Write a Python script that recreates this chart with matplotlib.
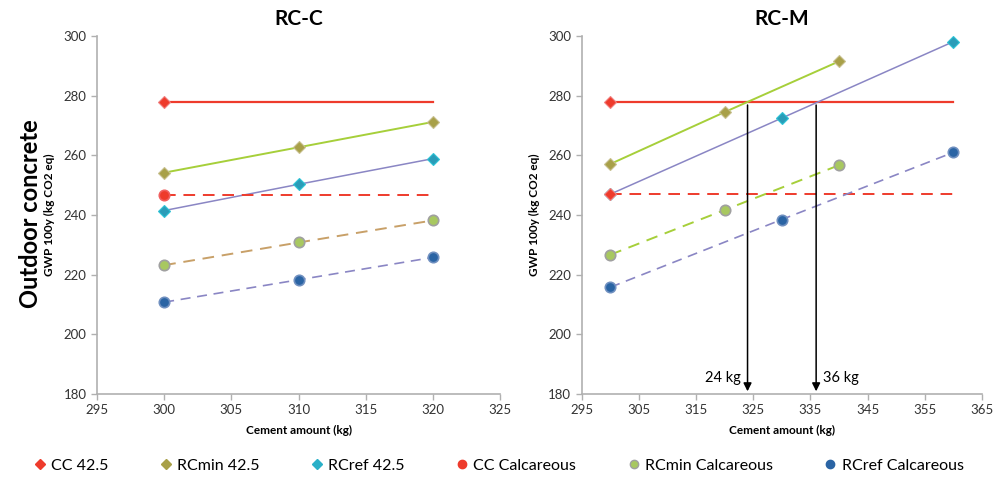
import numpy as np
import matplotlib
matplotlib.use("Agg")
import matplotlib.pyplot as plt
from matplotlib.lines import Line2D

plt.rcParams['font.family'] = ['Lato', 'DejaVu Sans']

# RC-C panel
c_x = [300, 310, 320]
c_cc425 = [277.8, 277.8, 277.8]
c_rcmin425 = [254.2, 262.7, 271.2]
c_rcref425 = [241.5, 250.3, 258.9]
c_cccalc = [246.8, 246.8, 246.8]
c_rcmincalc = [223.2, 230.8, 238.2]
c_rcrefcalc = [210.8, 218.3, 225.8]

# RC-M panel
m_x_cc = [300, 360]
m_cc425 = [277.8, 277.8]
m_cccalc = [246.9, 246.9]
m_x_min = [300, 320, 340]
m_rcmin425 = [257.1, 274.5, 291.5]
m_rcmincalc = [226.7, 241.7, 256.7]
m_x_ref = [300, 330, 360]
m_rcref425 = [247.0, 272.5, 298.1]
m_rcrefcalc = [215.8, 238.5, 261.0]
arrow_x = [324, 336]
arrow_labels = ['24 kg', '36 kg']

red = '#ee3b2c'
lime = '#a6cf3a'
olive = '#a8a048'
slate = '#8a86c4'
cyan = '#2ec4d6'
tan = '#c8a068'
ltgreen = '#a8c860'
navy = '#2a64a4'
grey = '#b0b0b0'

fig = plt.figure(figsize=(10.03, 4.8), dpi=100)
ax1 = fig.add_axes([0.0967, 0.179, 0.402, 0.746])
ax2 = fig.add_axes([0.580, 0.179, 0.399, 0.746])


def style(ax, xlim, xticks):
    ax.set_xlim(*xlim)
    ax.set_ylim(180, 300)
    ax.set_xticks(xticks)
    ax.set_yticks(range(180, 301, 20))
    for s in ['top', 'right']:
        ax.spines[s].set_visible(False)
    for s in ['left', 'bottom']:
        ax.spines[s].set_color(grey)
        ax.spines[s].set_linewidth(1.2)
    ax.tick_params(colors=grey, labelcolor='#333333', labelsize=9.5, length=4, width=1)
    ax.set_xlabel('Cement amount (kg)', fontsize=8.5, fontweight='bold', labelpad=6)
    ax.set_ylabel('GWP 100y (kg CO2 eq)', fontsize=8.5, fontweight='bold', labelpad=6)


dm = dict(marker='D', markersize=5.8, markeredgewidth=0.8)
cm = dict(marker='o', markersize=7.5, markeredgewidth=1.2)

# RC-C
ax1.plot(c_x, c_cc425, color=red, lw=1.6)
ax1.plot(c_x[0], c_cc425[0], ls='none', color=red, markeredgecolor='#f08080', **dm)
ax1.plot(c_x, c_rcmin425, color=lime, lw=1.4, markerfacecolor=olive, markeredgecolor='#c8c090', **dm)
ax1.plot(c_x, c_rcref425, color=slate, lw=1.1, markerfacecolor='#2a9cb8', markeredgecolor=cyan, **dm)
ax1.plot(c_x, c_cccalc, color=red, lw=1.4, ls=(0, (6, 4)))
ax1.plot(c_x[0], c_cccalc[0], ls='none', color=red, markeredgecolor='#f06060', **cm)
ax1.plot(c_x, c_rcmincalc, color=tan, lw=1.4, ls=(0, (6, 4)), markerfacecolor=ltgreen, markeredgecolor='#a0a0a0', **cm)
ax1.plot(c_x, c_rcrefcalc, color=slate, lw=1.2, ls=(0, (6, 4)), markerfacecolor=navy, markeredgecolor='#7090c0', **cm)
style(ax1, (295, 325), range(295, 326, 5))
ax1.set_title('RC-C', fontsize=15, fontweight='bold', pad=8)

# RC-M
ax2.plot(m_x_cc, m_cc425, color=red, lw=1.6)
ax2.plot(m_x_cc[0], m_cc425[0], ls='none', color=red, markeredgecolor='#f08080', **dm)
ax2.plot(m_x_min, m_rcmin425, color=lime, lw=1.4, markerfacecolor=olive, markeredgecolor='#c8c090', **dm)
ax2.plot(m_x_ref, m_rcref425, color=slate, lw=1.1, markerfacecolor='#2a9cb8', markeredgecolor=cyan, **dm)
ax2.plot(m_x_cc, m_cccalc, color=red, lw=1.4, ls=(0, (6, 4)))
ax2.plot(m_x_cc[0], m_cccalc[0], ls='none', color=red, markeredgecolor='#f08080', **dm)
ax2.plot(m_x_min, m_rcmincalc, color=lime, lw=1.4, ls=(0, (6, 4)), markerfacecolor=ltgreen, markeredgecolor='#a0a0a0', **cm)
ax2.plot(m_x_ref, m_rcrefcalc, color=slate, lw=1.2, ls=(0, (6, 4)), markerfacecolor=navy, markeredgecolor='#7090c0', **cm)
for xa in arrow_x:
    ax2.annotate('', xy=(xa, 180), xytext=(xa, m_cc425[0]),
                 arrowprops=dict(arrowstyle='-|>', color='black', lw=1.1, mutation_scale=12))
ax2.text(arrow_x[0] - 1.2, 183, arrow_labels[0], ha='right', va='bottom', fontsize=10.5)
ax2.text(arrow_x[1] + 1.2, 183, arrow_labels[1], ha='left', va='bottom', fontsize=10.5)
style(ax2, (295, 365), range(295, 366, 10))
ax2.set_title('RC-M', fontsize=15, fontweight='bold', pad=8)

fig.text(0.03, 0.555, 'Outdoor concrete', rotation=90, ha='center', va='center',
         fontsize=17, fontweight='bold')

handles = [
    Line2D([], [], ls='none', color=red, marker='D', markersize=5),
    Line2D([], [], ls='none', color=olive, marker='D', markersize=5),
    Line2D([], [], ls='none', color='#2ab0c8', marker='D', markersize=5),
    Line2D([], [], ls='none', color=red, marker='o', markersize=6),
    Line2D([], [], ls='none', color=ltgreen, markeredgecolor='#a0a0a0', marker='o', markersize=6),
    Line2D([], [], ls='none', color=navy, marker='o', markersize=6),
]
labels = ['CC 42.5', 'RCmin 42.5', 'RCref 42.5', 'CC Calcareous', 'RCmin Calcareous', 'RCref Calcareous']
fig.legend(handles, labels, loc='center', bbox_to_anchor=(0.497, 0.03), ncol=6, frameon=False,
           fontsize=11.5, handlelength=0.8, handletextpad=0.3, columnspacing=3.2)

fig.savefig('out.png', dpi=100)
